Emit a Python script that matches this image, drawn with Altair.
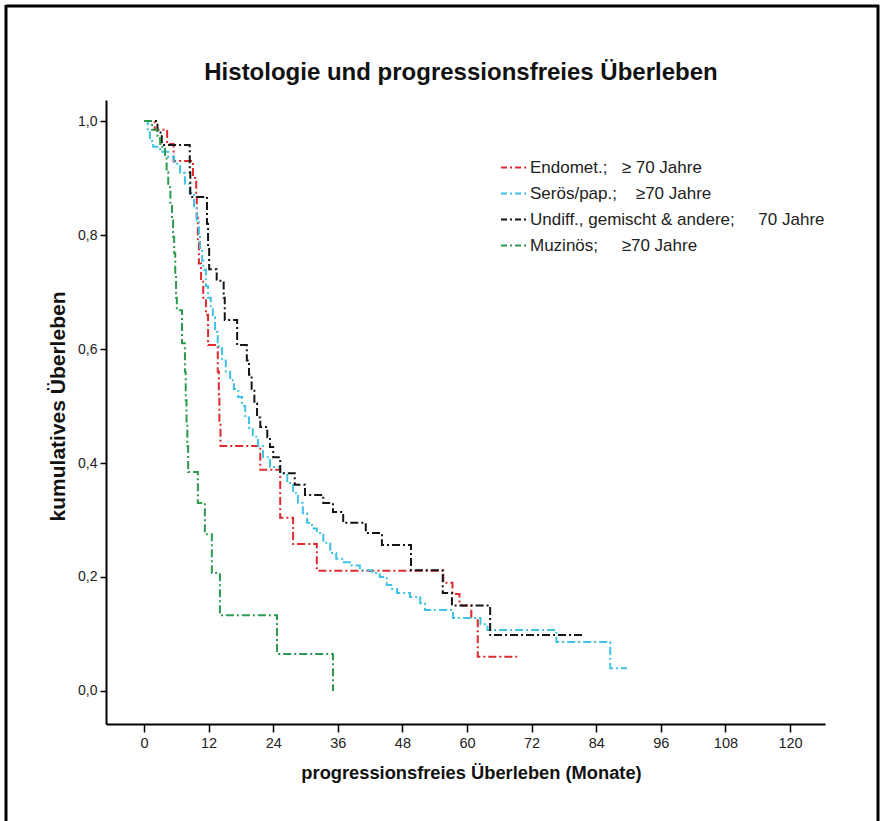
import altair as alt
import pandas as pd

# Kaplan-Meier estimates: month where the estimate changes and the value from then on
endomet_months = [0, 2.0, 4.3, 5.5, 9.1, 9.7, 9.8, 10.0, 10.2, 10.6, 11.0, 11.5, 11.9,
                  13.7, 13.9, 14.0, 14.2, 21.6, 25.3, 27.7, 32.1, 55.6, 57.3, 58.6,
                  60.8, 62.0, 69.3]
endomet_surv = [1.0, 0.985, 0.96, 0.93, 0.90, 0.87, 0.83, 0.79, 0.75, 0.72, 0.69, 0.66,
                0.607, 0.56, 0.52, 0.47, 0.43, 0.388, 0.304, 0.258, 0.211, 0.19, 0.17,
                0.15, 0.128, 0.06, 0.06]

seroes_months = [0, 0.7, 1.1, 1.7, 3.0, 4.5, 5.6, 6.7, 7.6, 8.5, 9.3, 9.8, 10.2, 10.4,
                 10.8, 11.0, 11.5, 11.9, 12.4, 12.8, 13.2, 13.7, 14.5, 15.2, 16.0, 16.7,
                 17.5, 18.2, 18.8, 19.5, 20.2, 21.2, 22.1, 23.4, 25.3, 26.6, 27.7, 28.6,
                 29.5, 30.3, 31.2, 32.1, 33.3, 34.6, 35.7, 36.8, 38.6, 40.1, 42.4, 43.8,
                 45.1, 46.1, 47.0, 49.4, 51.3, 52.2, 57.4, 62.5, 63.8, 76.6, 86.6, 89.7]
seroes_surv = [1.0, 0.98, 0.965, 0.955, 0.946, 0.937, 0.925, 0.909, 0.89, 0.874, 0.85,
               0.826, 0.80, 0.774, 0.755, 0.739, 0.71, 0.69, 0.67, 0.656, 0.63, 0.605,
               0.58, 0.56, 0.545, 0.53, 0.516, 0.50, 0.48, 0.462, 0.446, 0.43, 0.41,
               0.393, 0.382, 0.365, 0.347, 0.33, 0.312, 0.295, 0.285, 0.277, 0.26, 0.242,
               0.232, 0.226, 0.22, 0.212, 0.207, 0.20, 0.186, 0.179, 0.172, 0.165, 0.154,
               0.142, 0.128, 0.117, 0.107, 0.086, 0.04, 0.04]

undiff_months = [0, 2.5, 3.3, 8.5, 8.6, 11.7, 11.9, 12.1, 13.5, 14.8, 15.0, 17.3, 19.1,
                 19.5, 20.0, 20.5, 21.0, 21.6, 22.9, 23.4, 24.0, 25.3, 28.0, 29.9, 33.3,
                 35.1, 37.0, 41.2, 44.2, 49.6, 55.5, 57.2, 64.3, 81.6]
undiff_surv = [1.0, 0.98, 0.958, 0.91, 0.867, 0.82, 0.78, 0.74, 0.72, 0.69, 0.651, 0.607,
               0.58, 0.555, 0.53, 0.505, 0.48, 0.463, 0.445, 0.428, 0.41, 0.382, 0.362,
               0.344, 0.33, 0.314, 0.295, 0.277, 0.256, 0.212, 0.172, 0.15, 0.098, 0.098]

muzinoes_months = [0, 1.5, 2.5, 3.0, 3.9, 4.2, 4.5, 4.9, 5.2, 5.4, 5.6, 5.8, 5.95, 6.1,
                   7.06, 7.6, 7.75, 7.9, 8.05, 8.2, 10.0, 11.3, 12.6, 14.1, 24.7, 35.1]
muzinoes_surv = [1.0, 0.985, 0.97, 0.955, 0.937, 0.91, 0.884, 0.855, 0.826, 0.797, 0.768,
                 0.73, 0.69, 0.668, 0.61, 0.56, 0.51, 0.47, 0.43, 0.384, 0.33, 0.275,
                 0.207, 0.133, 0.065, 0.0]

NB = "\u00a0"
series_labels = [
    "Endomet.;" + NB * 3 + "≥ 70 Jahre",
    "Serös/pap.;" + NB * 4 + "≥70 Jahre",
    "Undiff., gemischt & andere;" + NB * 5 + "70 Jahre",
    "Muzinös;" + NB * 5 + "≥70 Jahre",
]
series_colors = ["#dc2a2e", "#3fc2e4", "#151515", "#2c9a4c"]

chart_title = "Histologie und progressionsfreies Überleben"
x_title = "progressionsfreies Überleben (Monate)"
y_title = "kumulatives Überleben"

x_ticks = [0, 12, 24, 36, 48, 60, 72, 84, 96, 108, 120]
y_ticks = [0.0, 0.2, 0.4, 0.6, 0.8, 1.0]

rows = []
for label, months, surv in zip(
    series_labels,
    [endomet_months, seroes_months, undiff_months, muzinoes_months],
    [endomet_surv, seroes_surv, undiff_surv, muzinoes_surv],
):
    assert len(months) == len(surv)
    for m, s in zip(months, surv):
        rows.append({"gruppe": label, "monate": m, "surv": s})
df = pd.DataFrame(rows)

FONT = "Liberation Sans, Arial, Helvetica, sans-serif"

W, H = 719, 624

curves = alt.Chart(df).mark_line(
    interpolate="step-after", strokeWidth=2, strokeDash=[8, 3, 2, 3], clip=False
).encode(
    x=alt.X(
        "monate:Q",
        scale=alt.Scale(domain=[-7.06, 126.5], nice=False, zero=False),
        axis=alt.Axis(
            values=x_ticks, title=x_title,
            titleX=365, titleY=49, titleAlign="center", titleBaseline="middle",
            titleFontSize=18.3,
            labelFontSize=14.5, labelPadding=4, tickSize=8, grid=False,
        ),
    ),
    y=alt.Y(
        "surv:Q",
        scale=alt.Scale(domain=[-0.058, 1.037], nice=False, zero=False),
        axis=alt.Axis(
            values=y_ticks, title=y_title,
            labelExpr="replace(format(datum.value, '.1f'), '.', ',')",
            titleX=-48, titleY=306, titleAlign="center", titleBaseline="middle",
            titleFontSize=21,
            labelFontSize=14, labelPadding=3, tickSize=6, grid=False,
        ),
    ),
    color=alt.Color(
        "gruppe:N",
        scale=alt.Scale(domain=series_labels, range=series_colors),
        legend=alt.Legend(
            title=None, orient="none", legendX=394, legendY=54,
            symbolType="stroke", symbolSize=625, symbolStrokeWidth=2,
            symbolDash=[6, 3, 2, 3], labelFontSize=17, labelOffset=3,
            rowPadding=4, labelColor="#222222", labelFont=FONT, labelLimit=0,
        ),
    ),
)

# heading, centred over the figure
heading = alt.Chart(alt.Data(values=[{"t": chart_title}])).mark_text(
    font=FONT, fontSize=24, fontWeight="bold", align="center",
    baseline="alphabetic", color="#111111",
).encode(text="t:N", x=alt.value(355), y=alt.value(-20))

# frame around the figure: top, left and right edges
frame_data = alt.Data(values=[{"k": 0}])
frame_top = alt.Chart(frame_data).mark_rule(color="black", strokeWidth=3).encode(
    x=alt.value(-100), x2=alt.value(773), y=alt.value(-94)
)
frame_left = alt.Chart(frame_data).mark_rule(color="black", strokeWidth=3).encode(
    x=alt.value(-100), y=alt.value(-95), y2=alt.value(H + 97)
)
frame_right = alt.Chart(frame_data).mark_rule(color="black", strokeWidth=3).encode(
    x=alt.value(772), y=alt.value(-95), y2=alt.value(H + 97)
)

chart = alt.layer(curves, heading, frame_top, frame_left, frame_right).properties(
    width=W,
    height=H,
    autosize=alt.AutoSizeParams(type="none"),
    padding={"left": 106, "top": 100, "right": 57, "bottom": 97},
    background="white",
).configure_view(stroke=None).configure_axis(
    domainColor="black", domainWidth=2, tickColor="black", tickWidth=1.5,
    labelColor="#222222", labelFont=FONT, titleFont=FONT, titleFontWeight="bold",
    titleColor="#111111",
)

chart.save("out.html", embed_options={"renderer": "svg", "actions": False})
